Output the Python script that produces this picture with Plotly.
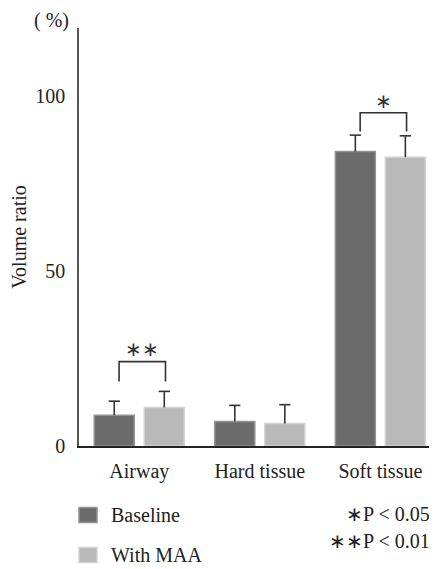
import plotly.graph_objects as go

categories = ["Airway", "Hard tissue", "Soft tissue"]
baseline = [8.8, 7.0, 84.1]
baseline_err = [4.0, 4.6, 4.7]
maa = [11.0, 6.4, 82.5]
maa_err = [4.6, 5.4, 6.1]
series_names = ["Baseline", "With MAA"]
y_ticks = [0, 50, 100]

FONT = "Liberation Serif"
FS = 20
TXT = "#222222"
colors = ["#6b6b6b", "#b9b9b9"]
edges = ["#939393", "#d3d3d3"]

xpos = list(range(len(categories)))
OFF = 0.2075  # half distance between grouped bar centres (bargap/bargroupgap below)

fig = go.Figure()
for name, vals, errs, col, edge, sgn in [
    (series_names[0], baseline, baseline_err, colors[0], edges[0], -1),
    (series_names[1], maa, maa_err, colors[1], edges[1], 1),
]:
    fig.add_trace(go.Bar(
        x=xpos, y=vals, name=name, showlegend=False,
        marker=dict(color=col, line=dict(color=edge, width=1.5)),
        error_y=dict(type="data", array=errs, arrayminus=[0] * len(errs), symmetric=False,
                     color="#333333", thickness=1.6, width=0),
    ))
    # error-bar caps (upper only)
    fig.add_trace(go.Scatter(
        x=[i + sgn * OFF for i in xpos], y=[v + e for v, e in zip(vals, errs)],
        mode="markers", showlegend=False, hoverinfo="skip",
        marker=dict(symbol="line-ew", size=8, line=dict(color="#333333", width=1.6)),
    ))

def bracket(i, y_top, y_leg, label, y_lab):
    fig.add_shape(type="path",
                  path=f"M {i-OFF+0.04},{y_leg} L {i-OFF+0.04},{y_top} L {i+OFF+0.01},{y_top} L {i+OFF+0.01},{y_leg}",
                  xref="x", yref="y", line=dict(color="#333333", width=1.6))
    fig.add_annotation(x=i + 0.025, y=y_lab, xref="x", yref="y", text=label, showarrow=False,
                       font=dict(family=FONT, size=FS, color="#333333"))

bracket(0, 24.1, 18.4, "∗∗", 27.6)
bracket(2, 95.2, 89.8, "∗", 98.6)

PLOT_LEFT, PLOT_W, PLOT_BOTTOM, PLOT_H = 79, 358, 446, 418
def px(xp): return (xp - PLOT_LEFT) / PLOT_W
def py(yp): return (PLOT_BOTTOM - yp) / PLOT_H

fig.add_annotation(x=px(71), y=py(21), xref="paper", yref="paper", text="( %)", showarrow=False,
                   xanchor="right", yanchor="middle", font=dict(family=FONT, size=FS, color=TXT))
fig.add_annotation(x=px(432), y=py(514), xref="paper", yref="paper", text="∗P < 0.05", showarrow=False,
                   xanchor="right", yanchor="middle", font=dict(family=FONT, size=FS, color=TXT))
fig.add_annotation(x=px(432), y=py(541), xref="paper", yref="paper", text="∗∗P < 0.01", showarrow=False,
                   xanchor="right", yanchor="middle", font=dict(family=FONT, size=FS, color=TXT))

# legend drawn manually
for k, (name, yc) in enumerate(zip(series_names, [515, 555])):
    fig.add_shape(type="rect", xref="paper", yref="paper",
                  x0=px(79), x1=px(97), y0=py(yc + 7.5), y1=py(yc - 7.5),
                  fillcolor=colors[k], line=dict(color=edges[k], width=1.5))
    fig.add_annotation(x=px(109), y=py(yc), xref="paper", yref="paper", text=name, showarrow=False,
                       xanchor="left", yanchor="middle", font=dict(family=FONT, size=FS, color=TXT))

# page has an 8px body margin: paper origin sits at (8, 8)
fig.update_layout(
    width=429, height=561,
    margin=dict(l=71, r=0, t=20, b=123),
    paper_bgcolor="white", plot_bgcolor="white",
    barmode="group", bargap=0.17, bargroupgap=0.2,
    font=dict(family=FONT, size=FS, color=TXT),
    showlegend=False,
    xaxis=dict(range=[-0.5, 2.47], tickvals=xpos, ticktext=categories,
               showline=True, linecolor="#222222", linewidth=1.5,
               ticks="", showgrid=False, zeroline=False, ticklabelstandoff=6),
    yaxis=dict(range=[0, 119.4], tickvals=y_ticks, showline=True, linecolor="#555555", linewidth=1.5,
               ticks="", showgrid=False, zeroline=False, ticklabelstandoff=8,
               title=dict(text="Volume ratio", standoff=10, font=dict(family=FONT, size=FS))),
)

fig.write_html("out.html")
